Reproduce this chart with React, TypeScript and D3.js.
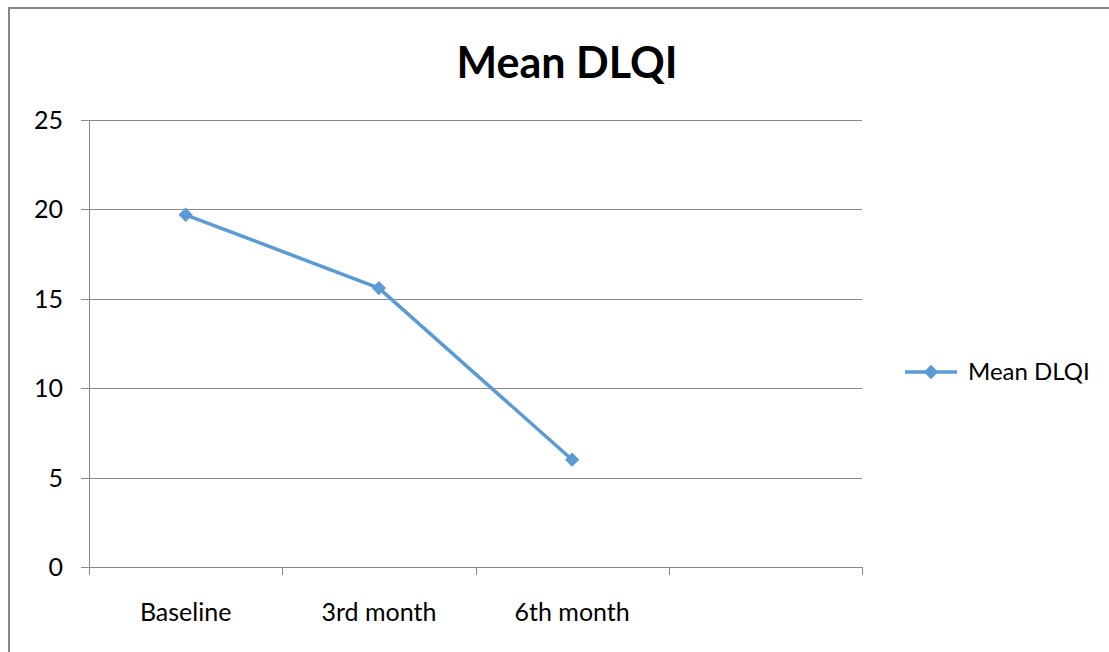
import React, { useEffect, useRef } from "react";
import * as d3 from "d3";

const categories = ["Baseline", "3rd month", "6th month", ""];
const meanDlqi = [19.7, 15.6, 6.0];
const yTicks = [0, 5, 10, 15, 20, 25];
const seriesName = "Mean DLQI";
const chartTitle = "Mean DLQI";

const W = 1109;
const H = 652;
const FONT = "Lato, 'Open Sans', 'Noto Sans', sans-serif";
const LINE = "#5B9BD5";
const GRID = "#888888";
const LABEL_SIZE = 25;

export default function App() {
  const ref = useRef<SVGSVGElement>(null);

  useEffect(() => {
    const svg = d3.select(ref.current);
    svg.selectAll("*").remove();

    // outer chart frame
    svg.append("rect")
      .attr("x", 9).attr("y", 8)
      .attr("width", W + 10).attr("height", H + 10)
      .attr("fill", "#fff").attr("stroke", "#878787").attr("stroke-width", 2);

    const left = 89, right = 862, top = 120, bottom = 567;

    const x = d3.scaleBand<string>()
      .domain(categories.map((c, i) => String(i)))
      .range([left, right])
      .paddingInner(0).paddingOuter(0);
    const y = d3.scaleLinear().domain([0, 25]).range([bottom, top]);

    svg.append("text")
      .attr("x", 567).attr("y", 78)
      .attr("text-anchor", "middle")
      .attr("font-family", FONT).attr("font-weight", "bold")
      .attr("font-size", 43).attr("fill", "#000")
      .text(chartTitle);

    // horizontal gridlines + y tick labels
    const g = svg.append("g");
    yTicks.forEach((t) => {
      const yy = Math.round(y(t)) + 0.5;
      g.append("line")
        .attr("x1", left - 8).attr("x2", right)
        .attr("y1", yy).attr("y2", yy)
        .attr("stroke", GRID).attr("stroke-width", 1);
      g.append("text")
        .attr("x", 63).attr("y", yy)
        .attr("dy", "0.35em")
        .attr("text-anchor", "end")
        .attr("font-family", FONT).attr("font-size", LABEL_SIZE)
        .attr("fill", "#000")
        .text(String(t));
    });

    // vertical axis
    g.append("line")
      .attr("x1", left + 0.5).attr("x2", left + 0.5)
      .attr("y1", top).attr("y2", bottom + 8)
      .attr("stroke", GRID);

    // category tick marks
    const bounds = categories.map((_, i) => x(String(i)) as number).concat([right]);
    bounds.forEach((bx) => {
      const xx = Math.round(bx) + 0.5;
      g.append("line")
        .attr("x1", xx).attr("x2", xx)
        .attr("y1", bottom).attr("y2", bottom + 8)
        .attr("stroke", GRID);
    });

    categories.forEach((c, i) => {
      if (!c) return;
      g.append("text")
        .attr("x", (x(String(i)) as number) + x.bandwidth() / 2)
        .attr("y", 612)
        .attr("dy", "0.35em")
        .attr("text-anchor", "middle")
        .attr("font-family", FONT).attr("font-size", LABEL_SIZE)
        .attr("fill", "#000")
        .text(c);
    });

    const pts: [number, number][] = meanDlqi.map((v, i) => [
      (x(String(i)) as number) + x.bandwidth() / 2,
      y(v),
    ]);
    const line = d3.line();
    svg.append("path")
      .attr("d", line(pts))
      .attr("fill", "none")
      .attr("stroke", LINE)
      .attr("stroke-width", 3.5)
      .attr("stroke-linejoin", "round");

    const diamond = d3.symbol().type(d3.symbolDiamond2).size(130);
    svg.selectAll("path.mk")
      .data(pts)
      .enter().append("path")
      .attr("class", "mk")
      .attr("transform", (d) => `translate(${d[0]},${d[1]})`)
      .attr("d", diamond)
      .attr("fill", LINE);

    // legend
    const ly = 372;
    svg.append("line")
      .attr("x1", 905).attr("x2", 957)
      .attr("y1", ly).attr("y2", ly)
      .attr("stroke", LINE).attr("stroke-width", 3.5);
    svg.append("path")
      .attr("transform", `translate(931,${ly})`)
      .attr("d", diamond)
      .attr("fill", LINE);
    svg.append("text")
      .attr("x", 968).attr("y", ly)
      .attr("dy", "0.35em")
      .attr("font-family", FONT).attr("font-size", 24)
      .attr("fill", "#000")
      .text(seriesName);
  }, []);

  return (
    <svg
      ref={ref}
      width={W}
      height={H}
      style={{ position: "absolute", left: 0, top: 0, display: "block", background: "#fff" }}
    />
  );
}
